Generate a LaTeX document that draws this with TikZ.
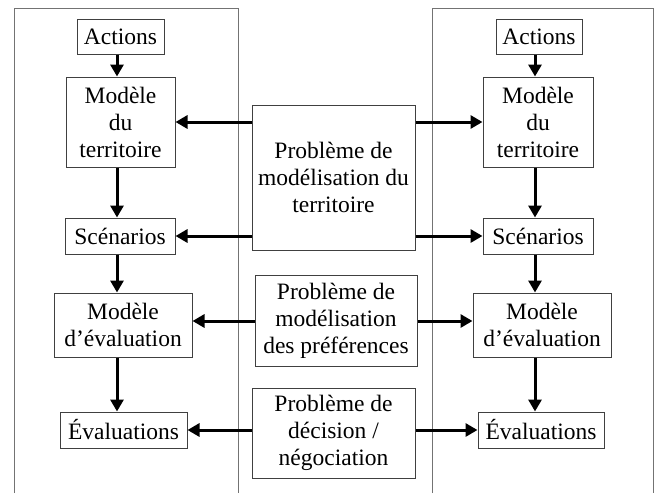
\documentclass[tikz,border=0pt]{standalone}
\usepackage{fontspec}
\setmainfont{Liberation Serif}
\usetikzlibrary{arrows.meta}
\tikzset{
  panel/.style={draw=black!55, line width=1pt},
  box/.style={draw=black!75, line width=1pt, fill=white, align=center,
    inner sep=0pt, font=\fontsize{23.5}{27}\selectfont},
  flow/.style={line width=3pt, -{Triangle[length=12pt,width=13pt]}},
}
\begin{document}
\begin{tikzpicture}[x=1pt,y=-1pt]
\useasboundingbox (0,0) rectangle (660,493);
\fill[white] (0,0) rectangle (660,493);

% the two open side panels
\draw[panel] (14,493) -- (14,8) -- (238,8) -- (238,493);
\draw[panel] (432,493) -- (432,8) -- (653,8) -- (653,493);

% left chain
\node[box, minimum width=87pt, minimum height=35pt] (actL) at (120.5,36.5) {Actions};
\node[box, minimum width=109pt, minimum height=90pt] (mtL) at (120.5,122) {Modèle\\du\\territoire};
\node[box, minimum width=110pt, minimum height=36pt] (scL) at (120,236) {Scénarios};
\node[box, minimum width=138pt, minimum height=64pt] (meL) at (123,325) {Modèle\\d’évaluation};
\node[box, minimum width=127pt, minimum height=36pt] (evL) at (123.5,430) {Évaluations};

% right chain
\node[box, minimum width=86pt, minimum height=35pt] (actR) at (539,36.5) {Actions};
\node[box, minimum width=110pt, minimum height=90pt] (mtR) at (538,122) {Modèle\\du\\territoire};
\node[box, minimum width=110pt, minimum height=36pt] (scR) at (538,236) {Scénarios};
\node[box, minimum width=138pt, minimum height=64pt] (meR) at (542,325) {Modèle\\d’évaluation};
\node[box, minimum width=126pt, minimum height=36pt] (evR) at (541,430) {Évaluations};

% central problems
\node[box, minimum width=163pt, minimum height=145pt] (pmt) at (333.5,177.5) {Problème de\\modélisation du\\territoire};
\node[box, minimum width=162pt, minimum height=91pt] (pmp) at (336,320.5) {Problème de\\modélisation\\des préférences};
\node[box, minimum width=163pt, minimum height=90pt] (pdn) at (333.5,433) {Problème de\\décision /\\négociation};

% guide coordinates for the connector lines
\coordinate (axL) at (117,0);
\coordinate (axR) at (535,0);
\coordinate (lvA) at (0,122);
\coordinate (lvB) at (0,236);
\coordinate (lvC) at (0,321);
\coordinate (lvD) at (0,430);

% vertical flows
\foreach \a/\b in {actL/mtL, mtL/scL, scL/meL, meL/evL}
  \draw[flow] (\a.south -| axL) -- (\b.north -| axL);
\foreach \a/\b in {actR/mtR, mtR/scR, scR/meR, meR/evR}
  \draw[flow] (\a.south -| axR) -- (\b.north -| axR);

% horizontal flows out of the central problems
\draw[flow] (pmt.west |- lvA) -- (mtL.east |- lvA);
\draw[flow] (pmt.west |- lvB) -- (scL.east |- lvB);
\draw[flow] (pmt.east |- lvA) -- (mtR.west |- lvA);
\draw[flow] (pmt.east |- lvB) -- (scR.west |- lvB);
\draw[flow] (pmp.west |- lvC) -- (meL.east |- lvC);
\draw[flow] (pmp.east |- lvC) -- (meR.west |- lvC);
\draw[flow] (pdn.west |- lvD) -- (evL.east |- lvD);
\draw[flow] (pdn.east |- lvD) -- (evR.west |- lvD);
\end{tikzpicture}
\end{document}
